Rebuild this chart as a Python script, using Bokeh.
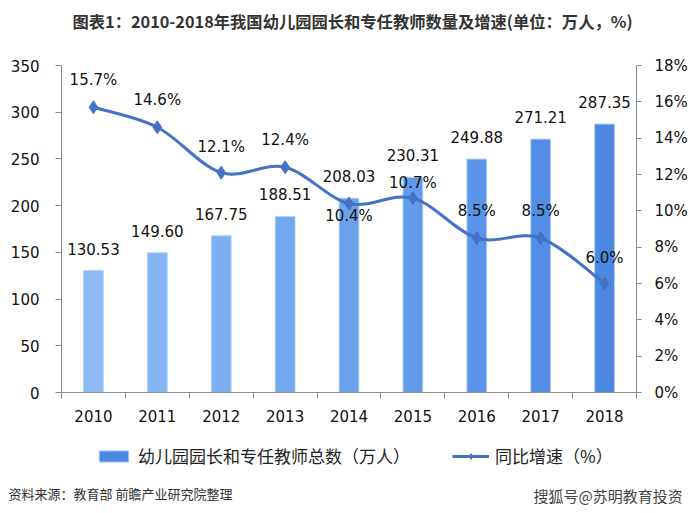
from bokeh.plotting import figure
from bokeh.models import (Range1d, LinearAxis, FixedTicker, PrintfTickFormatter,
                          ColumnDataSource, Legend, LegendItem, CustomJSTickFormatter, Label)
from bokeh.embed import file_html
from bokeh.resources import INLINE
from bokeh.core.properties import value

# ---------------- data ----------------
years = ["2010", "2011", "2012", "2013", "2014", "2015", "2016", "2017", "2018"]
teachers = [130.53, 149.60, 167.75, 188.51, 208.03, 230.31, 249.88, 271.21, 287.35]
teacher_labels = ["130.53", "149.60", "167.75", "188.51", "208.03", "230.31", "249.88", "271.21", "287.35"]
growth = [15.7, 14.6, 12.1, 12.4, 10.4, 10.7, 8.5, 8.5, 6.0]
growth_labels = ["15.7%", "14.6%", "12.1%", "12.4%", "10.4%", "10.7%", "8.5%", "8.5%", "6.0%"]
left_ticks = [0, 50, 100, 150, 200, 250, 300, 350]
right_ticks = [0, 2, 4, 6, 8, 10, 12, 14, 16, 18]
title_text = "图表1：2010-2018年我国幼儿园园长和专任教师数量及增速(单位：万人，%)"
bar_name = "幼儿园园长和专任教师总数（万人）"
line_name = "同比增速（%）"
source_text = "资料来源：教育部 前瞻产业研究院整理"
mark_text = "搜狐号@苏明教育投资"

# ---------------- styles / layout (pixels) ----------------
bar_colors = ["#8DBAF5", "#85B4F3", "#7DAEF0", "#74A8EE", "#6BA1EB",
              "#639BEA", "#5A94E8", "#528EE5", "#4A88E2"]
growth_label_offsets = [-27, -27, -26, -27, 12, -15, -27, -27, -26]
LINE_COLOR = "#4472C4"
AXIS_COLOR = "#8C8C8C"
NUM_FONT = value("DejaVu Sans")
CJK = "Noto Sans CJK SC"

W, H = 700, 513
PLOT_L, PLOT_R, PLOT_T, PLOT_B = 61, 636, 65, 392   # axes box in canvas pixels
Y_MAX, P_MAX = 350, 18

n = len(years)
xs = [i + 0.5 for i in range(n)]

# ranges chosen so the whole canvas is the frame and the axes box sits at PLOT_*
xpx = (PLOT_R - PLOT_L) / n
ypx = (PLOT_B - PLOT_T) / Y_MAX
ppx = (PLOT_B - PLOT_T) / P_MAX
x_range = Range1d(-PLOT_L / xpx, n + (W - PLOT_R) / xpx)
y_range = Range1d(-(H - PLOT_B) / ypx, Y_MAX + PLOT_T / ypx)
p_range = Range1d(-(H - PLOT_B) / ppx, P_MAX + PLOT_T / ppx)

p = figure(width=W, height=H, x_range=x_range, y_range=y_range,
           toolbar_location=None, output_backend="svg", min_border=0)
p.extra_y_ranges = {"pct": p_range}
p.outline_line_color = None
p.xgrid.visible = False
p.ygrid.visible = False

# x axis: labels at centres, tick marks between categories
xa = p.xaxis[0]
xa.fixed_location = 0
xa.bounds = (0, n)
xa.ticker = FixedTicker(ticks=xs, minor_ticks=list(range(n + 1)))
xa.formatter = CustomJSTickFormatter(args=dict(labels=years),
                                     code="return labels[Math.floor(tick)];")
xa.major_tick_line_color = None
xa.major_tick_out = 0
xa.minor_tick_in = 0
xa.minor_tick_out = 6
xa.minor_tick_line_color = AXIS_COLOR
xa.axis_line_color = AXIS_COLOR
xa.major_label_standoff = 11
xa.major_label_text_font = "DejaVu Sans"
xa.major_label_text_font_size = "15px"
xa.major_label_text_color = "#111111"

ya = p.yaxis[0]
ya.fixed_location = 0
ya.bounds = (0, Y_MAX)
ya.ticker = FixedTicker(ticks=left_ticks)
ya.minor_tick_line_color = None
ya.major_tick_in = 0
ya.major_tick_out = 6
ya.major_tick_line_color = AXIS_COLOR
ya.axis_line_color = AXIS_COLOR
ya.major_label_standoff = 16
ya.major_label_text_font = "DejaVu Sans"
ya.major_label_text_font_size = "15px"
ya.major_label_text_color = "#111111"

ra = LinearAxis(y_range_name="pct", ticker=FixedTicker(ticks=right_ticks),
                formatter=PrintfTickFormatter(format="%d%%"),
                fixed_location=n, bounds=(0, P_MAX))
ra.minor_tick_line_color = None
ra.major_tick_in = 0
ra.major_tick_out = 5
ra.major_tick_line_color = AXIS_COLOR
ra.axis_line_color = AXIS_COLOR
ra.major_label_standoff = 13
ra.major_label_text_font = "DejaVu Sans"
ra.major_label_text_font_size = "15px"
ra.major_label_text_color = "#111111"
p.add_layout(ra, "right")

src = ColumnDataSource(dict(x=xs, teachers=teachers, tlabel=teacher_labels, color=bar_colors,
                            growth=growth, glabel=growth_labels, goff=growth_label_offsets))

bars = p.vbar(x="x", top="teachers", width=0.31, fill_color="color",
              line_color="#B3D1F7", line_width=1, source=src)

p.text(x="x", y="teachers", text="tlabel", source=src, text_align="center",
       text_baseline="middle", y_offset=-22, text_font=NUM_FONT,
       text_font_size="15px", text_color="#111111")

# smoothed growth line (Catmull-Rom through the data points)
def ctrl(vals):
    c0, c1 = [], []
    for i in range(len(vals) - 1):
        prev = vals[i - 1] if i > 0 else vals[i]
        nxt = vals[i + 2] if i + 2 < len(vals) else vals[i + 1]
        c0.append(vals[i] + (vals[i + 1] - prev) / 6.0)
        c1.append(vals[i + 1] - (nxt - vals[i]) / 6.0)
    return c0, c1

cx0, cx1 = ctrl(xs)
cy0, cy1 = ctrl(growth)
p.bezier(x0=xs[:-1], y0=growth[:-1], x1=xs[1:], y1=growth[1:],
         cx0=cx0, cy0=cy0, cx1=cx1, cy1=cy1,
         line_color=LINE_COLOR, line_width=3, y_range_name="pct")
marks = p.scatter(x="x", y="growth", source=src, marker="diamond", size=13,
                  fill_color=LINE_COLOR, line_color=LINE_COLOR, y_range_name="pct")
# line used only for the legend swatch; its points lie far outside the visible range
legend_line = p.line(x=xs[:2], y=[-1000, -1000], line_color=LINE_COLOR, line_width=3)

p.text(x="x", y="growth", text="glabel", source=src, text_align="center",
       text_baseline="middle", y_offset="goff", text_font=NUM_FONT,
       text_font_size="15px", text_color="#111111", y_range_name="pct")

legend = Legend(items=[
    LegendItem(label=bar_name, renderers=[bars], index=n - 1),
    LegendItem(label=line_name, renderers=[legend_line, marks]),
], orientation="horizontal", location=(95, H - 468),
    label_text_font=CJK, label_text_font_size="17px", label_text_color="#222222",
    glyph_width=37, glyph_height=14, spacing=42, label_standoff=6,
    border_line_color=None, background_fill_alpha=0, padding=2, margin=0)
p.add_layout(legend, "center")

# title and footer texts (screen pixels from the canvas' bottom-left)
p.add_layout(Label(x=352, y=H - 20, x_units="screen", y_units="screen", text=title_text,
                   text_align="center", text_baseline="middle", text_font=CJK,
                   text_font_style="bold", text_font_size="16.3px", text_color="#333333"))
p.add_layout(Label(x=8, y=H - 493, x_units="screen", y_units="screen", text=source_text,
                   text_align="left", text_baseline="middle", text_font=CJK,
                   text_font_size="13px", text_color="#333333"))
p.add_layout(Label(x=533, y=H - 495, x_units="screen", y_units="screen", text=mark_text,
                   text_align="left", text_baseline="middle", text_font=CJK,
                   text_font_size="15px", text_color="#444444"))

open("out.html", "w").write(file_html(p, INLINE))
